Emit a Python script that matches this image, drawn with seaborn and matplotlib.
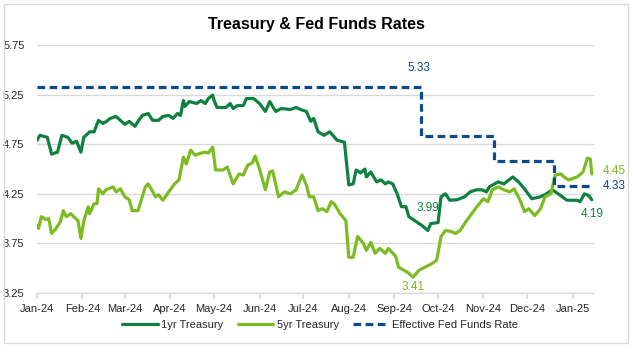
import matplotlib
matplotlib.use("Agg")
import matplotlib.pyplot as plt
import matplotlib.dates as mdates
from matplotlib.patches import Rectangle
import numpy as np
import pandas as pd
import seaborn as sns

# ---- data (day offsets from 2024-01-01) ----
start = "2024-01-01"
t1_days = [0, 2, 7, 10, 14, 17, 21, 24, 27, 30, 32, 36, 39, 42, 45, 47, 50, 54, 57, 60,
           63, 67, 69, 72, 76, 79, 83, 86, 90, 93, 96, 98, 100, 101, 104, 109, 112, 115, 117, 120,
           121, 123, 129, 132, 134, 137, 141, 143, 148, 152, 156, 159, 163, 167, 173, 177, 180, 184, 187, 189,
           192, 196, 200, 205, 210, 213, 216, 218, 221, 224, 225, 228, 232, 235, 238, 240, 243, 246, 249, 252,
           254, 258, 263, 267, 269, 274, 276, 279, 282, 287, 292, 296, 300, 304, 307, 309, 315, 319, 325, 329,
           333, 338, 344, 348, 352, 356, 362, 369, 371, 374, 377, 379]
t1_vals = [4.79, 4.84, 4.82, 4.65, 4.67, 4.84, 4.82, 4.76, 4.78, 4.67, 4.82, 4.875, 4.875, 4.99, 4.96, 4.975, 5.01, 5.03, 4.99, 4.95,
           4.98, 4.93, 4.98, 5.04, 5.06, 4.99, 4.99, 5.03, 5.04, 5.01, 5.06, 5.04, 5.19, 5.13, 5.18, 5.16, 5.19, 5.16, 5.21, 5.245,
           5.19, 5.12, 5.12, 5.16, 5.11, 5.14, 5.14, 5.21, 5.21, 5.16, 5.08, 5.18, 5.08, 5.11, 5.10, 5.12, 5.10, 5.08, 4.98, 5.01,
           4.875, 4.84, 4.875, 4.79, 4.77, 4.34, 4.35, 4.49, 4.46, 4.50, 4.42, 4.47, 4.37, 4.39, 4.35, 4.37, 4.35, 4.25, 4.12, 4.12,
           4.02, 3.98, 3.93, 3.88, 3.95, 3.96, 4.22, 4.25, 4.185, 4.19, 4.22, 4.27, 4.29, 4.29, 4.27, 4.32, 4.37, 4.35, 4.42, 4.37,
           4.30, 4.20, 4.22, 4.25, 4.29, 4.25, 4.185, 4.185, 4.17, 4.25, 4.23, 4.19]

t5_days = [0, 1, 3, 6, 8, 10, 13, 16, 18, 20, 23, 25, 28, 30, 32, 35, 36, 39, 41, 42,
           45, 47, 52, 54, 57, 60, 63, 65, 69, 74, 76, 81, 83, 86, 90, 94, 97, 100, 102, 105,
           108, 112, 115, 117, 120, 122, 127, 130, 134, 138, 141, 144, 147, 149, 152, 156, 159, 161, 165, 169,
           173, 177, 181, 184, 186, 189, 192, 195, 198, 201, 203, 207, 211, 213, 216, 219, 223, 225, 228, 231,
           234, 238, 240, 245, 247, 253, 257, 261, 265, 269, 273, 276, 279, 283, 286, 289, 293, 297, 301, 305,
           308, 311, 315, 319, 323, 326, 330, 333, 336, 340, 344, 347, 351, 354, 358, 360, 363, 369, 373, 376,
           378, 379]
t5_vals = [3.93, 3.90, 4.02, 3.99, 4.00, 3.85, 3.90, 3.97, 4.08, 4.02, 4.05, 4.02, 3.98, 3.80, 3.98, 4.12, 4.05, 4.15, 4.15, 4.30,
           4.25, 4.29, 4.32, 4.27, 4.30, 4.22, 4.19, 4.08, 4.08, 4.32, 4.35, 4.22, 4.24, 4.185, 4.27, 4.35, 4.39, 4.62, 4.55, 4.69,
           4.64, 4.66, 4.67, 4.66, 4.72, 4.49, 4.49, 4.52, 4.35, 4.45, 4.44, 4.54, 4.56, 4.63, 4.50, 4.29, 4.47, 4.48, 4.22, 4.27,
           4.25, 4.29, 4.44, 4.34, 4.22, 4.22, 4.08, 4.10, 4.07, 4.17, 4.15, 4.05, 3.98, 3.61, 3.61, 3.82, 3.75, 3.68, 3.76, 3.65,
           3.70, 3.65, 3.70, 3.62, 3.51, 3.46, 3.41, 3.48, 3.51, 3.54, 3.58, 3.82, 3.88, 3.87, 3.85, 3.88, 3.97, 4.05, 4.13, 4.20,
           4.17, 4.29, 4.32, 4.29, 4.27, 4.30, 4.185, 4.07, 4.10, 4.03, 4.10, 4.22, 4.25, 4.44, 4.45, 4.42, 4.39, 4.42, 4.47, 4.61,
           4.60, 4.45]

ff_dates = ["2024-01-01", "2024-09-19", "2024-11-08", "2024-12-19", "2025-01-14"]
ff_vals = [5.33, 4.83, 4.58, 4.33, 4.33]

month_ticks = pd.date_range("2024-01-01", "2025-01-01", freq="MS")
y_ticks = [3.25, 3.75, 4.25, 4.75, 5.25, 5.75]

# annotations: (text, date, value)
labels = [("5.33", "2024-09-18", 5.33), ("3.99", "2024-09-22", 3.99), ("3.41", "2024-09-14", 3.41),
          ("4.45", "2025-01-14", 4.45), ("4.33", "2025-01-14", 4.33), ("4.19", "2025-01-14", 4.19)]

# ---- build frames ----
base = pd.Timestamp(start)
df1 = pd.DataFrame({"date": base + pd.to_timedelta(t1_days, unit="D"), "rate": t1_vals})
df5 = pd.DataFrame({"date": base + pd.to_timedelta(t5_days, unit="D"), "rate": t5_vals})
dff = pd.DataFrame({"date": pd.to_datetime(ff_dates), "rate": ff_vals})

sns.set_theme(style="white")
plt.rcParams["font.family"] = ["Liberation Sans", "DejaVu Sans"]

C1 = "#0E8140"
C5 = "#7CBB22"
CF = "#0B4A8C"
TXT = "#262626"

fig = plt.figure(figsize=(6.32, 3.47), dpi=100)
ax = fig.add_axes([37 / 632, 1 - 293 / 347, (594 - 37) / 632, (293 - 45) / 347])

sns.lineplot(data=df1, x="date", y="rate", ax=ax, color=C1, lw=2.3, label="1yr Treasury")
sns.lineplot(data=df5, x="date", y="rate", ax=ax, color=C5, lw=2.3, label="5yr Treasury")
sns.lineplot(data=dff, x="date", y="rate", ax=ax, color=CF, lw=2.3, drawstyle="steps-post",
             label="Effective Fed Funds Rate")
ax.lines[-1].set_dashes((2.4, 1.4))

ax.set_ylim(3.25, 5.75)
ax.set_yticks(y_ticks)
ax.set_yticklabels([f"{v:.2f}" for v in y_ticks])
ax.set_xlim(pd.Timestamp("2024-01-01"), pd.Timestamp("2025-01-15 12:00"))
ax.set_xticks(month_ticks)
ax.xaxis.set_major_formatter(mdates.DateFormatter("%b-%y"))
ax.set_xlabel("")
ax.set_ylabel("")
ax.grid(axis="y", color="#D9D9D9", lw=1)
ax.set_axisbelow(True)
for s in ["top", "right", "left"]:
    ax.spines[s].set_visible(False)
ax.spines["bottom"].set_color("#D9D9D9")
ax.spines["bottom"].set_linewidth(1)
ax.tick_params(axis="x", bottom=True, length=4, color="#D9D9D9", labelsize=8, pad=4)
ax.tick_params(axis="y", left=False, labelsize=8, pad=3)
for lab in ax.get_xticklabels() + ax.get_yticklabels():
    lab.set_color(TXT)

# annotations
ann = {
    "5.33": (CF, 0, 9, "center", "bottom"),
    "3.99": (C1, 2, 4, "center", "bottom"),
    "3.41": (C5, 0, -3, "center", "top"),
    "4.45": (C5, 8, 2, "left", "center"),
    "4.33": (CF, 8, 0, "left", "center"),
    "4.19": (C1, 0, -6, "center", "top"),
}
for txt, d, v in labels:
    c, dx, dy, ha, va = ann[txt]
    ax.annotate(txt, xy=(pd.Timestamp(d), v), xytext=(dx, dy), textcoords="offset points",
                ha=ha, va=va, color=c, fontsize=8.5, annotation_clip=False)

fig.text(316 / 632, 1 - 25 / 347, "Treasury & Fed Funds Rates", ha="center", va="center",
         fontsize=11.5, fontweight="bold", color="#000000")

handles, labs = ax.get_legend_handles_labels()
ax.legend(handles, labs, loc="center", bbox_to_anchor=(320 / 632, 1 - 325 / 347),
          bbox_transform=fig.transFigure, ncol=3, frameon=False, fontsize=8,
          handlelength=3.2, handletextpad=0.3, columnspacing=1.3)
for t in ax.get_legend().get_texts():
    t.set_color(TXT)

fig.patches.append(Rectangle((4 / 632, 4 / 347), 624 / 632, 339 / 347, transform=fig.transFigure,
                             fill=False, edgecolor="#D9D9D9", lw=1))

fig.savefig("out.png", dpi=100)
